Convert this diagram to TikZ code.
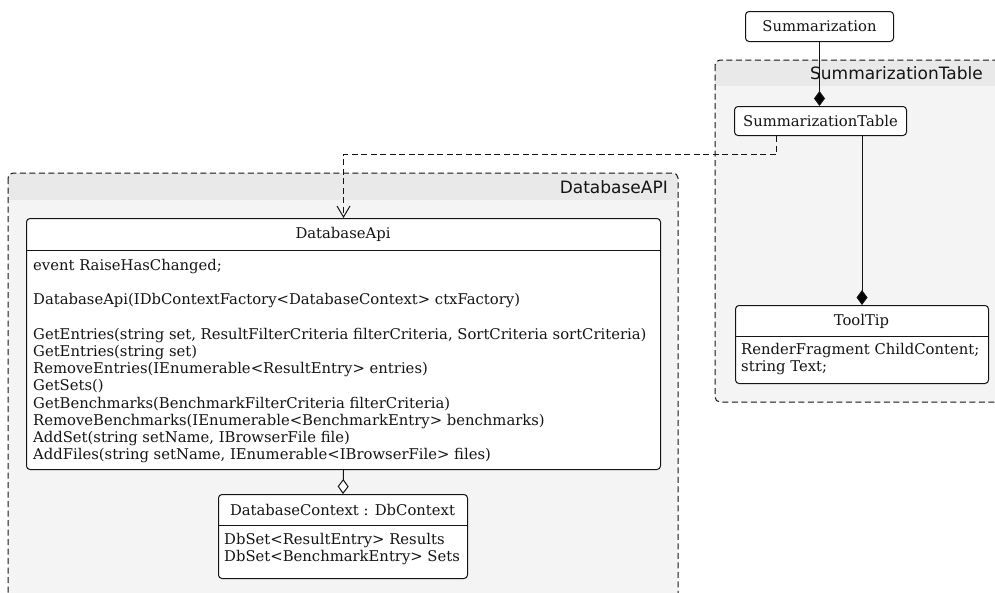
\documentclass[tikz,border=0pt]{standalone}
\usepackage{fontspec}
\setmainfont{DejaVu Serif}
\newfontfamily\pkgsans{DejaVu Sans}
\usetikzlibrary{arrows.meta, positioning}
\definecolor{pkg_body}{RGB}{244,244,244}
\definecolor{pkg_head}{RGB}{233,233,233}
\definecolor{uml_line}{RGB}{20,20,20}

\begin{document}
\begin{tikzpicture}[x=1pt, y=-1pt,
    classbox/.style={draw=uml_line, line width=1pt, fill=white, rounded corners=3.5pt,
        inner sep=0pt, anchor=north west},
    classname/.style={inner sep=0pt, text=uml_line, font=\fontsize{14.8}{17.2}\selectfont},
    members/.style={inner sep=0pt, anchor=north west, align=left, text=uml_line,
        font=\fontsize{14.8}{17.2}\selectfont},
    pkgborder/.style={draw=uml_line, line width=1pt, dash pattern=on 6pt off 3.5pt,
        rounded corners=5pt},
    pkgname/.style={inner sep=0pt, anchor=east, text=uml_line,
        font=\pkgsans\fontsize{17}{20}\selectfont},
    composition/.style={draw=uml_line, line width=1pt,
        -{Diamond[length=15pt, width=11pt, fill=black]}},
    aggregation/.style={draw=uml_line, line width=1pt,
        -{Diamond[length=15pt, width=11pt, fill=white]}},
    dependency/.style={draw=uml_line, line width=1pt, dash pattern=on 6pt off 3.5pt,
        -{Straight Barb[length=11pt, width=13pt]}}]
    \useasboundingbox (0,0) rectangle (995,592);
    \clip (0,0) rectangle (995,592);

    % Package SummarizationTable
    \fill[pkg_body, rounded corners=5pt] (715,60) rectangle (1010,402);
    \begin{scope}
        \clip[rounded corners=5pt] (715,60) rectangle (1010,402);
        \fill[pkg_head] (715,60) rectangle (1010,86);
    \end{scope}
    \draw[pkgborder] (715,60) rectangle (1010,402);
    \node[pkgname] (pkg_sumtab) at (983,73) {SummarizationTable};

    % Package DatabaseAPI
    \fill[pkg_body, rounded corners=5pt] (8,173) rectangle (678,620);
    \begin{scope}
        \clip[rounded corners=5pt] (8,173) rectangle (678,620);
        \fill[pkg_head] (8,173) rectangle (678,200);
    \end{scope}
    \draw[pkgborder] (8,173) rectangle (678,620);
    \node[pkgname] (pkg_dbapi) at (668,187) {DatabaseAPI};

    % Classes
    \node[classbox, minimum width=148pt, minimum height=30pt] (summ) at (745,11) {};
    \node[classname] (summ_name) at (summ.center) {Summarization};

    \node[classbox, minimum width=172pt, minimum height=29pt] (sumtab) at (734,106) {};
    \node[classname] (sumtab_name) at (sumtab.center) {SummarizationTable};

    \node[classbox, minimum width=253pt, minimum height=78pt] (tooltip) at (735,305) {};
    \node[classname] (tooltip_name) at (861.5,321) {ToolTip};
    \draw[uml_line, line width=1pt] (735,336) -- (988,336);
    \node[members] (tooltip_attr) at (741,343) {RenderFragment ChildContent;\\string Text;};

    \node[classbox, minimum width=634pt, minimum height=251pt] (dbapi) at (26,218) {};
    \node[classname] (dbapi_name) at (343,234) {DatabaseApi};
    \draw[uml_line, line width=1pt] (26,250) -- (660,250);
    \node[members] (dbapi_ops) at (33,259) {%
        event RaiseHasChanged;\\ \strut\\
        DatabaseApi(IDbContextFactory<DatabaseContext> ctxFactory)\\ \strut\\
        GetEntries(string set, ResultFilterCriteria filterCriteria, SortCriteria sortCriteria)\\
        GetEntries(string set)\\
        RemoveEntries(IEnumerable<ResultEntry> entries)\\
        GetSets()\\
        GetBenchmarks(BenchmarkFilterCriteria filterCriteria)\\
        RemoveBenchmarks(IEnumerable<BenchmarkEntry> benchmarks)\\
        AddSet(string setName, IBrowserFile file)\\
        AddFiles(string setName, IEnumerable<IBrowserFile> files)};

    \node[classbox, minimum width=249pt, minimum height=84pt] (dbctx) at (218,494) {};
    \node[classname] (dbctx_name) at (342.5,510) {DatabaseContext : DbContext};
    \draw[uml_line, line width=1pt] (218,525) -- (467,525);
    \node[members] (dbctx_attr) at (224,533) {DbSet<ResultEntry> Results\\DbSet<BenchmarkEntry> Sets};

    % Connectors
    \draw[composition] (summ.south) -- (summ.south |- sumtab.north);
    \draw[composition] (tooltip.north |- sumtab.south) -- (tooltip.north);
    \draw[dependency] ([xshift=-44pt]sumtab.south) |- ([yshift=64pt]dbapi.north) -- (dbapi.north);
    \draw[aggregation] (dbapi.south) -- (dbctx.north);
\end{tikzpicture}
\end{document}
